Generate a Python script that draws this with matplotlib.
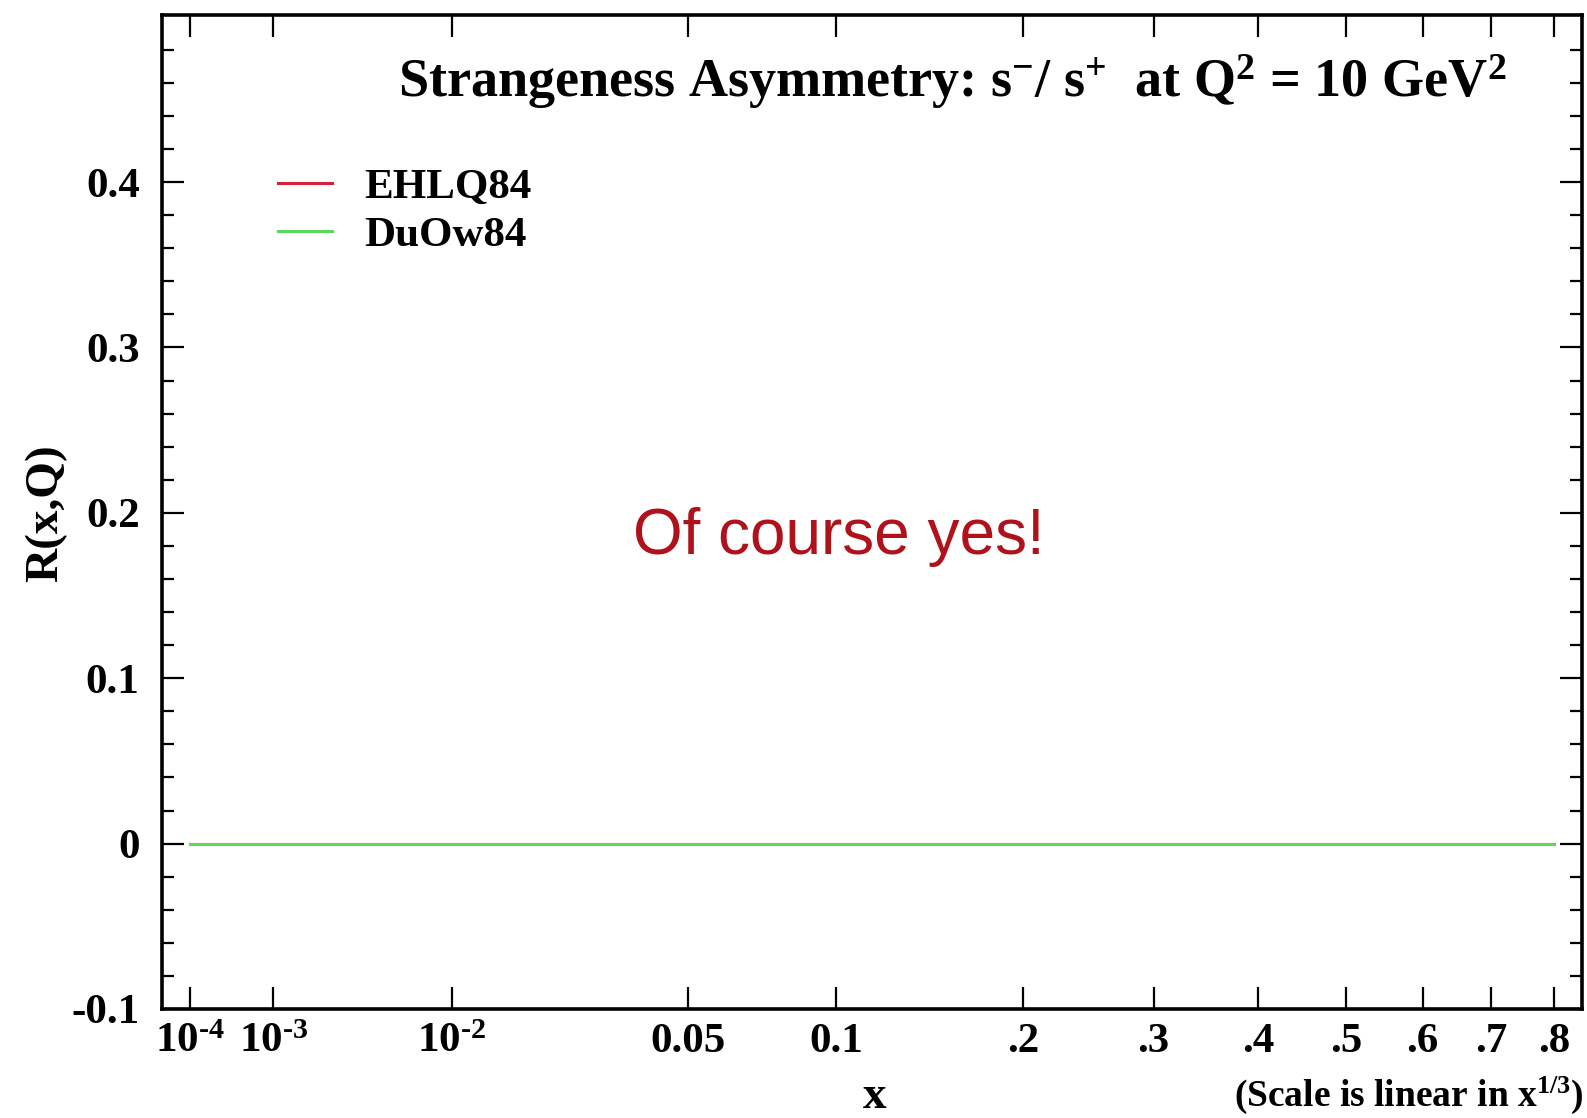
import numpy as np
import matplotlib
matplotlib.use('Agg')
import matplotlib.pyplot as plt

# R(x,Q) = s-/s+ asymmetry at Q^2 = 10 GeV^2 for two old PDF sets
x_pts = [1e-4, 1e-3, 1e-2, 0.05, 0.1, 0.2, 0.3, 0.4, 0.5, 0.6, 0.7, 0.8]
r_ehlq84 = [0, 0, 0, 0, 0, 0, 0, 0, 0, 0, 0, 0]
r_duow84 = [0, 0, 0, 0, 0, 0, 0, 0, 0, 0, 0, 0]

xtick_vals = [1e-4, 1e-3, 1e-2, 0.05, 0.1, 0.2, 0.3, 0.4, 0.5, 0.6, 0.7, 0.8]
xtick_labels = ['$10^{\u20104}$', '$10^{\u20103}$', '$10^{\u20102}$', '0.05', '0.1',
                '.2', '.3', '.4', '.5', '.6', '.7', '.8']
ytick_vals = [-0.1, 0.0, 0.1, 0.2, 0.3, 0.4]
ytick_labels = ['-0.1', '0', '0.1', '0.2', '0.3', '0.4']

plt.rcParams['font.family'] = 'Liberation Serif'
plt.rcParams['font.weight'] = 'bold'
plt.rcParams['mathtext.fontset'] = 'custom'
plt.rcParams['mathtext.rm'] = 'Liberation Serif:bold'
plt.rcParams['mathtext.it'] = 'Liberation Serif:bold'
plt.rcParams['mathtext.bf'] = 'Liberation Serif:bold'
plt.rcParams['mathtext.default'] = 'regular'

fig = plt.figure(figsize=(15.87, 11.18), dpi=100)
ax = fig.add_axes([0.102, 0.0975, 0.8948, 0.8891])

# axis is linear in x^(1/3)
ax.set_xscale('function', functions=(np.cbrt, lambda u: u ** 3))
ax.set_xlim(0.028 ** 3, 0.9464 ** 3)
ax.set_ylim(-0.1, 0.501)

ax.plot(x_pts, r_ehlq84, color='#d4203a', lw=2.2, label='EHLQ84', zorder=3)
ax.plot(x_pts, r_duow84, color='#5ada5a', lw=2.2, label='DuOw84', zorder=4)

ax.set_xticks(xtick_vals)
ax.set_xticklabels(xtick_labels)
ax.xaxis.set_minor_locator(plt.NullLocator())
ax.set_yticks(ytick_vals)
ax.set_yticklabels(ytick_labels)
ax.set_yticks(np.arange(-0.08, 0.5, 0.02), minor=True)

ax.tick_params(which='both', direction='in', top=True, right=True, width=1.6)
ax.tick_params(which='major', length=16, labelsize=31)
ax.tick_params(which='minor', length=8.5)
ax.tick_params(axis='x', pad=10)
ax.tick_params(axis='y', pad=16)
for sp in ax.spines.values():
    sp.set_linewidth(2.6)

ax.text(0.166, 0.917,
        r'Strangeness Asymmetry: s$^{-}$/ s$^{+}$  at Q$^{2}$ = 10 GeV$^{2}$',
        transform=ax.transAxes, fontsize=39, ha='left', va='baseline')

ax.text(0.4765, 0.475, 'Of course yes!', transform=ax.transAxes,
        fontsize=46, color='#b0121c', fontweight='normal',
        family='Liberation Sans', ha='center', va='center')

leg = ax.legend(loc='upper left', bbox_to_anchor=(0.082, 0.846), frameon=False,
                fontsize=31, handlelength=1.25, handletextpad=0.75,
                labelspacing=0.2, borderpad=0, borderaxespad=0)

fig.text(0.551, 0.009, 'x', fontsize=34, ha='center', va='baseline')
fig.text(0.998, 0.0107, r'(Scale is linear in x$^{1/3}$)', fontsize=27,
         ha='right', va='baseline')
fig.text(0.029, 0.541, 'R(x,Q)', fontsize=34, rotation=90,
         ha='center', va='center')

plt.savefig('out.png', dpi=100)
plt.close()
